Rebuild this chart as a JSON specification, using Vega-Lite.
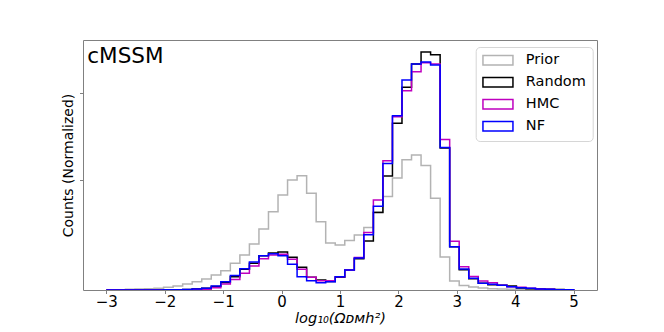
{
  "$schema": "https://vega.github.io/schema/vega-lite/v6.json",
  "autosize": {"type": "none"},
  "width": 514,
  "height": 250,
  "padding": {"left": 83, "top": 40, "right": 67, "bottom": 42},
  "config": {
    "font": "DejaVu Sans",
    "view": {"stroke": "#808080", "strokeWidth": 1}
  },
  "layer": [
    {
      "data": {
        "values": [
          {"x": -3.0, "Prior": 0.3, "Random": 0, "HMC": 0, "NF": 0},
          {"x": -2.8367, "Prior": 0.3, "Random": 0, "HMC": 0, "NF": 0},
          {"x": -2.6735, "Prior": 0.7, "Random": 0, "HMC": 0, "NF": 0},
          {"x": -2.5102, "Prior": 1.0, "Random": 0, "HMC": 0, "NF": 0},
          {"x": -2.3469, "Prior": 1.3, "Random": 0.1, "HMC": 0, "NF": 0.1},
          {"x": -2.1837, "Prior": 1.7, "Random": 0.1, "HMC": 0.1, "NF": 0.1},
          {"x": -2.0204, "Prior": 2.7, "Random": 0.2, "HMC": 0.1, "NF": 0.2},
          {"x": -1.8571, "Prior": 4.0, "Random": 0.3, "HMC": 0.2, "NF": 0.3},
          {"x": -1.6939, "Prior": 6.0, "Random": 0.5, "HMC": 0.3, "NF": 0.5},
          {"x": -1.5306, "Prior": 8.3, "Random": 0.9, "HMC": 0.5, "NF": 0.9},
          {"x": -1.3673, "Prior": 11.0, "Random": 1.8, "HMC": 0.8, "NF": 1.8},
          {"x": -1.2041, "Prior": 15.0, "Random": 3.5, "HMC": 2.2, "NF": 4.0},
          {"x": -1.0408, "Prior": 19.3, "Random": 7.5, "HMC": 6.0, "NF": 8.3},
          {"x": -0.8776, "Prior": 26.7, "Random": 13.3, "HMC": 10.5, "NF": 14.5},
          {"x": -0.7143, "Prior": 35.0, "Random": 20.7, "HMC": 16.7, "NF": 21.3},
          {"x": -0.5510, "Prior": 46.0, "Random": 26.7, "HMC": 24.0, "NF": 28.0},
          {"x": -0.3878, "Prior": 61.0, "Random": 34.3, "HMC": 31.3, "NF": 34.3},
          {"x": -0.2245, "Prior": 78.3, "Random": 37.0, "HMC": 35.0, "NF": 36.3},
          {"x": -0.0612, "Prior": 95.0, "Random": 38.0, "HMC": 35.7, "NF": 34.3},
          {"x": 0.1020, "Prior": 110.0, "Random": 32.7, "HMC": 30.7, "NF": 25.7},
          {"x": 0.2653, "Prior": 114.3, "Random": 22.7, "HMC": 20.7, "NF": 13.3},
          {"x": 0.4286, "Prior": 96.7, "Random": 12.7, "HMC": 12.7, "NF": 9.3},
          {"x": 0.5918, "Prior": 68.3, "Random": 10.0, "HMC": 9.3, "NF": 7.3},
          {"x": 0.7551, "Prior": 47.0, "Random": 8.6, "HMC": 9.3, "NF": 8.3},
          {"x": 0.9184, "Prior": 45.0, "Random": 12.7, "HMC": 13.3, "NF": 13.3},
          {"x": 1.0816, "Prior": 49.5, "Random": 20.0, "HMC": 20.0, "NF": 20.0},
          {"x": 1.2449, "Prior": 55.0, "Random": 31.3, "HMC": 32.5, "NF": 32.0},
          {"x": 1.4082, "Prior": 62.5, "Random": 49.0, "HMC": 57.5, "NF": 55.3},
          {"x": 1.5714, "Prior": 78.0, "Random": 77.5, "HMC": 90.0, "NF": 83.8},
          {"x": 1.7347, "Prior": 93.5, "Random": 114.0, "HMC": 129.3, "NF": 126.5},
          {"x": 1.8980, "Prior": 112.0, "Random": 166.7, "HMC": 173.3, "NF": 174.3},
          {"x": 2.0612, "Prior": 130.3, "Random": 202.7, "HMC": 199.3, "NF": 210.0},
          {"x": 2.2245, "Prior": 135.0, "Random": 226.0, "HMC": 218.3, "NF": 226.0},
          {"x": 2.3878, "Prior": 124.5, "Random": 238.0, "HMC": 227.3, "NF": 228.0},
          {"x": 2.5510, "Prior": 91.7, "Random": 235.3, "HMC": 226.0, "NF": 225.0},
          {"x": 2.7143, "Prior": 33.0, "Random": 142.0, "HMC": 150.5, "NF": 142.5},
          {"x": 2.8776, "Prior": 9.0, "Random": 43.3, "HMC": 48.8, "NF": 43.3},
          {"x": 3.0408, "Prior": 4.5, "Random": 20.3, "HMC": 23.3, "NF": 21.0},
          {"x": 3.2041, "Prior": 3.0, "Random": 11.2, "HMC": 13.6, "NF": 11.7},
          {"x": 3.3673, "Prior": 2.0, "Random": 6.7, "HMC": 9.0, "NF": 6.7},
          {"x": 3.5306, "Prior": 1.3, "Random": 5.3, "HMC": 7.3, "NF": 5.7},
          {"x": 3.6939, "Prior": 1.0, "Random": 4.7, "HMC": 4.7, "NF": 4.7},
          {"x": 3.8571, "Prior": 0.7, "Random": 4.0, "HMC": 3.3, "NF": 3.3},
          {"x": 4.0204, "Prior": 0.5, "Random": 2.0, "HMC": 2.7, "NF": 2.3},
          {"x": 4.1837, "Prior": 0.4, "Random": 1.3, "HMC": 1.7, "NF": 1.7},
          {"x": 4.3469, "Prior": 0.3, "Random": 1.0, "HMC": 1.0, "NF": 1.0},
          {"x": 4.5102, "Prior": 0.2, "Random": 0.7, "HMC": 0.7, "NF": 0.7},
          {"x": 4.6735, "Prior": 0.1, "Random": 0.4, "HMC": 0.3, "NF": 0.3},
          {"x": 4.8367, "Prior": 0.1, "Random": 0.3, "HMC": 0.3, "NF": 0.3},
          {"x": 5.0, "Prior": 0, "Random": 0, "HMC": 0, "NF": 0}
        ]
      },
      "transform": [
        {"fold": ["Prior", "Random", "HMC", "NF"], "as": ["series", "count"]}
      ],
      "mark": {"type": "line", "interpolate": "step-after", "clip": true},
      "encoding": {
        "x": {
          "field": "x",
          "type": "quantitative",
          "scale": {"domain": [-3.4, 5.4], "nice": false, "zero": false},
          "axis": {
            "values": [-3, -2, -1, 0, 1, 2, 3, 4, 5],
            "format": "d",
            "title": "log₁₀(Ωᴅᴍh²)",
            "titleFontSize": 14.5,
            "titleFontStyle": "italic",
            "titleFontWeight": "normal",
            "titleColor": "#000000",
            "titlePadding": 2,
            "labelFontSize": 15,
            "labelColor": "#000000",
            "labelPadding": 1,
            "labelExpr": "replace(datum.label, '-', '−')",
            "tickSize": 3.5,
            "tickColor": "#808080",
            "domain": false,
            "grid": false
          }
        },
        "y": {
          "field": "count",
          "type": "quantitative",
          "scale": {"domain": [0, 250], "nice": false},
          "axis": {
            "title": "Counts (Normalized)",
            "titleFontSize": 14,
            "titleFontWeight": "normal",
            "titleColor": "#000000",
            "titlePadding": 4,
            "labels": false,
            "values": [110, 196.7],
            "tickSize": 3.5,
            "tickColor": "#808080",
            "domain": false,
            "grid": false
          }
        },
        "color": {
          "field": "series",
          "type": "nominal",
          "scale": {
            "domain": ["Prior", "Random", "HMC", "NF"],
            "range": ["#b3b3b3", "#000000", "#bf00bf", "#0000ff"]
          },
          "legend": {
            "title": null,
            "orient": "none",
            "legendX": 392.7,
            "legendY": 7,
            "symbolType": "M-1,-0.8H4V0.8H-1Z",
            "symbolSize": 144,
            "symbolStrokeWidth": 1.5,
            "symbolFillColor": "transparent",
            "labelFontSize": 14.5,
            "labelColor": "#000000",
            "labelOffset": 29.6,
            "rowPadding": 5,
            "padding": 6,
            "fillColor": "rgba(255,255,255,0.8)",
            "strokeColor": "#d6d6d6",
            "cornerRadius": 4
          }
        },
        "strokeWidth": {
          "field": "series",
          "type": "nominal",
          "scale": {"domain": ["Prior", "Random", "HMC", "NF"], "range": [1.5, 1.5, 1.5, 1.8]},
          "legend": null
        }
      }
    },
    {
      "data": {"values": [{"label": "cMSSM", "x": -3.4, "y": 250}]},
      "mark": {
        "type": "text",
        "align": "left",
        "baseline": "alphabetic",
        "dx": 4.3,
        "dy": 22.7,
        "fontSize": 21.5,
        "font": "DejaVu Sans",
        "color": "#000000"
      },
      "encoding": {
        "x": {"field": "x", "type": "quantitative"},
        "y": {"field": "y", "type": "quantitative"},
        "text": {"field": "label"}
      }
    }
  ]
}
